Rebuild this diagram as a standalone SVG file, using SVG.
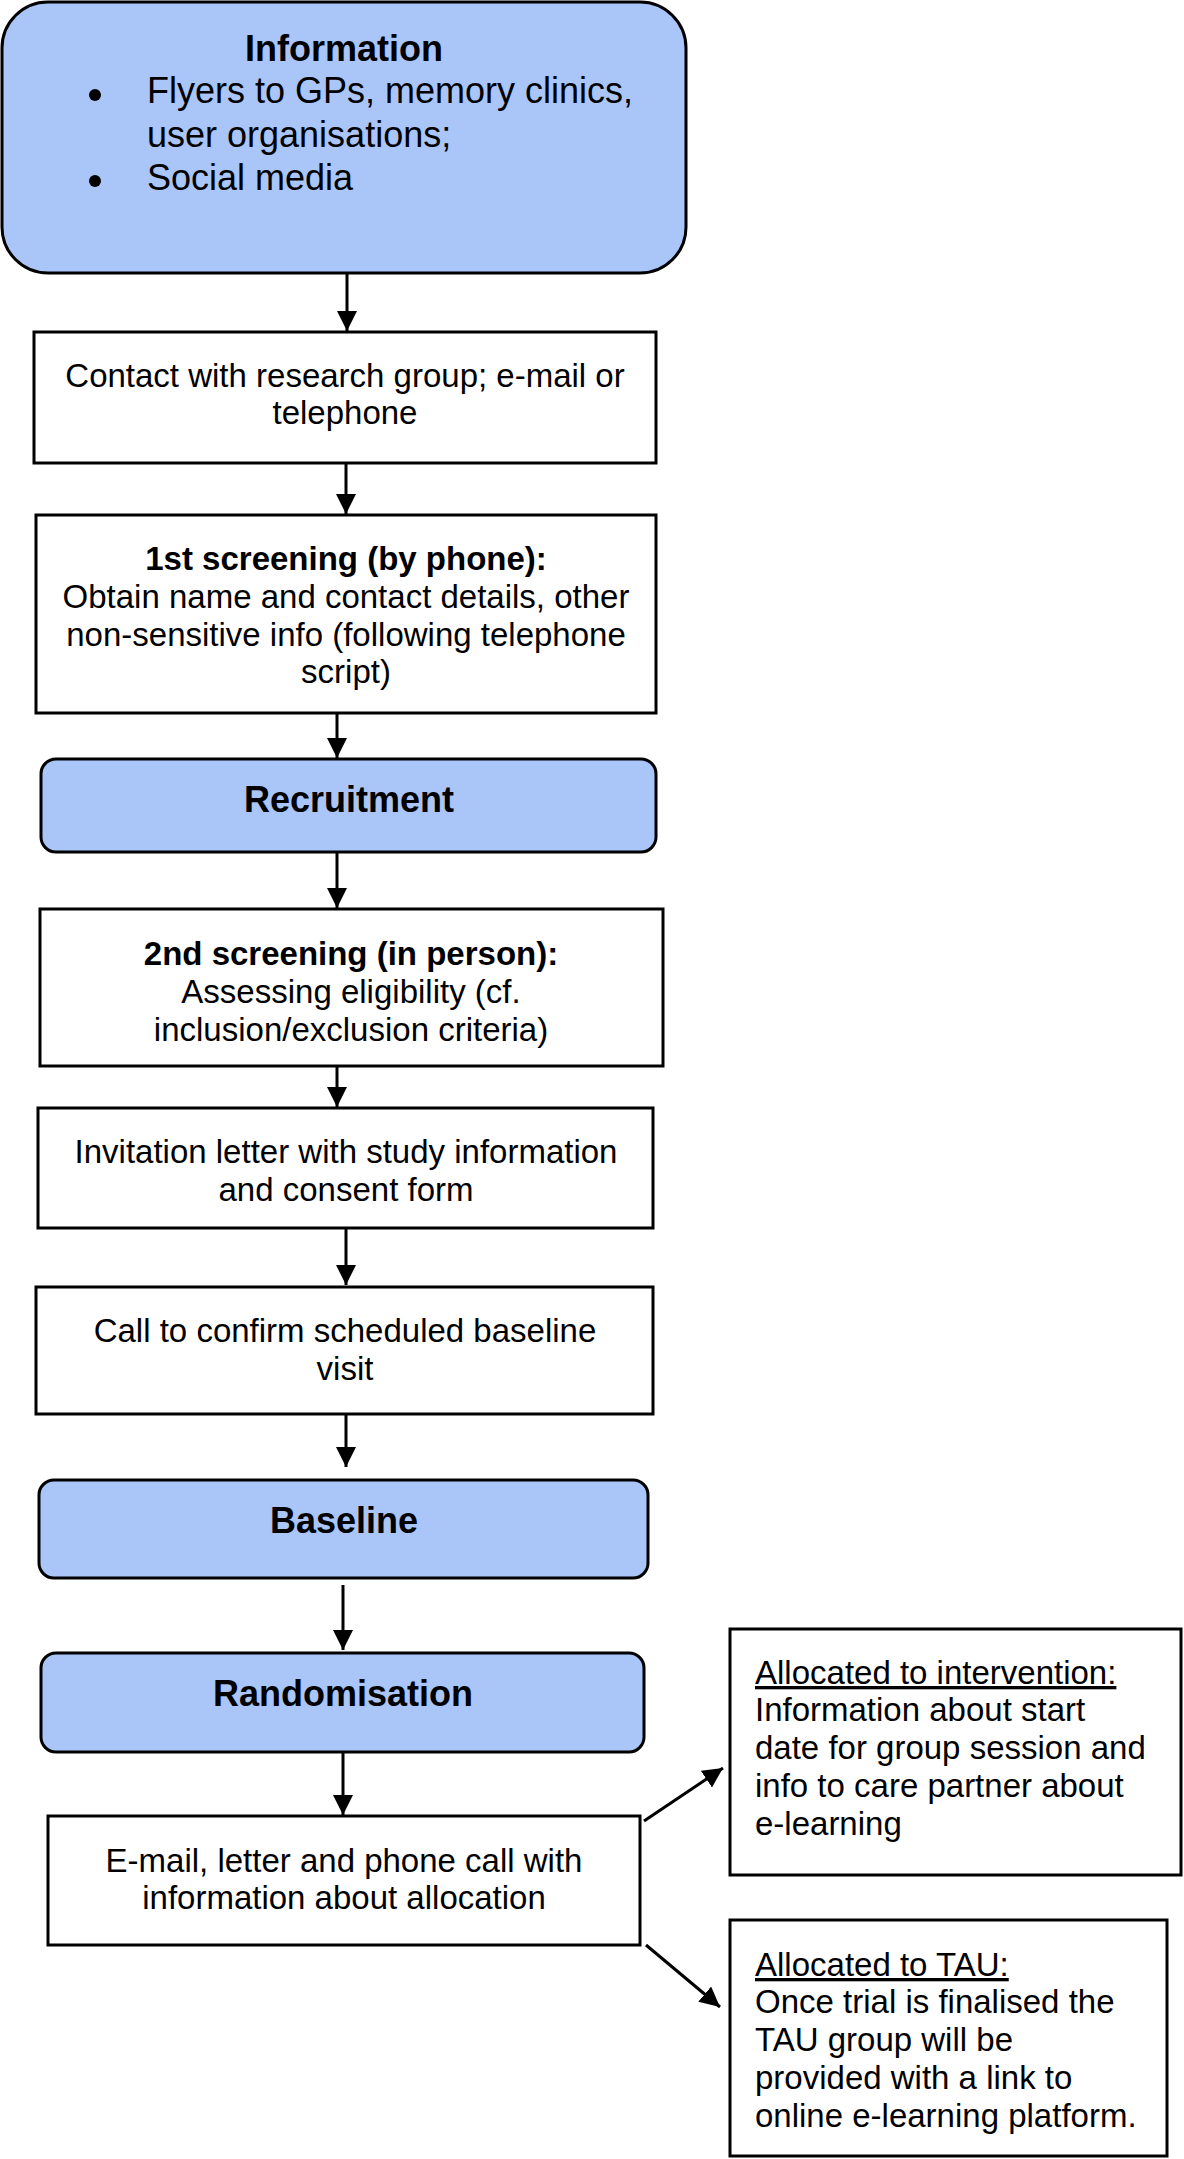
<svg xmlns="http://www.w3.org/2000/svg" width="1184" height="2159" viewBox="0 0 1184 2159">
<defs>
<style>
.box{fill:#ffffff;stroke:#000;stroke-width:3}
.blue{fill:#aac5f8;stroke:#000;stroke-width:3}
text{font-family:"Liberation Sans",Arial,sans-serif;fill:#000}
.t{font-size:33px;text-anchor:middle}
.tl{font-size:33px}
.b{font-size:36px;font-weight:bold;text-anchor:middle}
.bt{font-size:33px;font-weight:bold;text-anchor:middle}
.bul{font-size:36px}
.c{stroke:#000;stroke-width:3;fill:none;marker-end:url(#ah)}
</style>
<marker id="ah" markerUnits="userSpaceOnUse" markerWidth="22" markerHeight="22" refX="20" refY="10" orient="auto">
<path d="M0,0 L20,10 L0,20 z" fill="#000"/>
</marker>
</defs>
<rect width="1184" height="2159" fill="#fff"/>

<g id="connectors">
<line class="c" x1="347" y1="273" x2="347" y2="331"/>
<line class="c" x1="346" y1="463" x2="346" y2="514"/>
<line class="c" x1="337" y1="713" x2="337" y2="758"/>
<line class="c" x1="337" y1="852" x2="337" y2="908"/>
<line class="c" x1="337" y1="1066" x2="337" y2="1107"/>
<line class="c" x1="346" y1="1228" x2="346" y2="1285"/>
<line class="c" x1="346" y1="1414" x2="346" y2="1467"/>
<line class="c" x1="343" y1="1585" x2="343" y2="1650"/>
<line class="c" x1="343" y1="1752" x2="343" y2="1815"/>
<line class="c" x1="644" y1="1821" x2="723" y2="1768"/>
<line class="c" x1="646" y1="1945" x2="720" y2="2007"/>
</g>

<g id="information">
<rect class="blue" x="2" y="2" width="684" height="271" rx="46" ry="46"/>
<text class="b" x="344" y="61">Information</text>
<circle cx="95" cy="95" r="6"/>
<circle cx="95" cy="181" r="6"/>
<text class="bul" x="147" y="103">Flyers to GPs, memory clinics,</text>
<text class="bul" x="147" y="147">user organisations;</text>
<text class="bul" x="147" y="190">Social media</text>
</g>

<g id="contact">
<rect class="box" x="34" y="332" width="622" height="131"/>
<text class="t" x="345" y="387">Contact with research group; e-mail or</text>
<text class="t" x="345" y="424">telephone</text>
</g>

<g id="screening1">
<rect class="box" x="36" y="515" width="620" height="198"/>
<text class="bt" x="346" y="570">1st screening (by phone):</text>
<text class="t" x="346" y="608">Obtain name and contact details, other</text>
<text class="t" x="346" y="646">non-sensitive info (following telephone</text>
<text class="t" x="346" y="683">script)</text>
</g>

<g id="recruitment">
<rect class="blue" x="41" y="759" width="615" height="93" rx="15" ry="15"/>
<text class="b" x="349" y="812">Recruitment</text>
</g>

<g id="screening2">
<rect class="box" x="40" y="909" width="623" height="157"/>
<text class="bt" x="351" y="965">2nd screening (in person):</text>
<text class="t" x="351" y="1003">Assessing eligibility (cf.</text>
<text class="t" x="351" y="1041">inclusion/exclusion criteria)</text>
</g>

<g id="invitation">
<rect class="box" x="38" y="1108" width="615" height="120"/>
<text class="t" x="346" y="1163">Invitation letter with study information</text>
<text class="t" x="346" y="1201">and consent form</text>
</g>

<g id="call">
<rect class="box" x="36" y="1287" width="617" height="127"/>
<text class="t" x="345" y="1342">Call to confirm scheduled baseline</text>
<text class="t" x="345" y="1380">visit</text>
</g>

<g id="baseline">
<rect class="blue" x="39" y="1480" width="609" height="98" rx="15" ry="15"/>
<text class="b" x="344" y="1533">Baseline</text>
</g>

<g id="randomisation">
<rect class="blue" x="41" y="1653" width="603" height="99" rx="15" ry="15"/>
<text class="b" x="343" y="1706">Randomisation</text>
</g>

<g id="allocation">
<rect class="box" x="48" y="1816" width="592" height="129"/>
<text class="t" x="344" y="1872">E-mail, letter and phone call with</text>
<text class="t" x="344" y="1909">information about allocation</text>
</g>

<g id="intervention">
<rect class="box" x="730" y="1629" width="451" height="246"/>
<text class="tl" x="755" y="1684" text-decoration="underline">Allocated to intervention:</text>
<text class="tl" x="755" y="1721">Information about start</text>
<text class="tl" x="755" y="1759">date for group session and</text>
<text class="tl" x="755" y="1797">info to care partner about</text>
<text class="tl" x="755" y="1835">e-learning</text>
</g>

<g id="tau">
<rect class="box" x="730" y="1920" width="437" height="236"/>
<text class="tl" x="755" y="1976" text-decoration="underline">Allocated to TAU:</text>
<text class="tl" x="755" y="2013">Once trial is finalised the</text>
<text class="tl" x="755" y="2051">TAU group will be</text>
<text class="tl" x="755" y="2089">provided with a link to</text>
<text class="tl" x="755" y="2127">online e-learning platform.</text>
</g>
</svg>
